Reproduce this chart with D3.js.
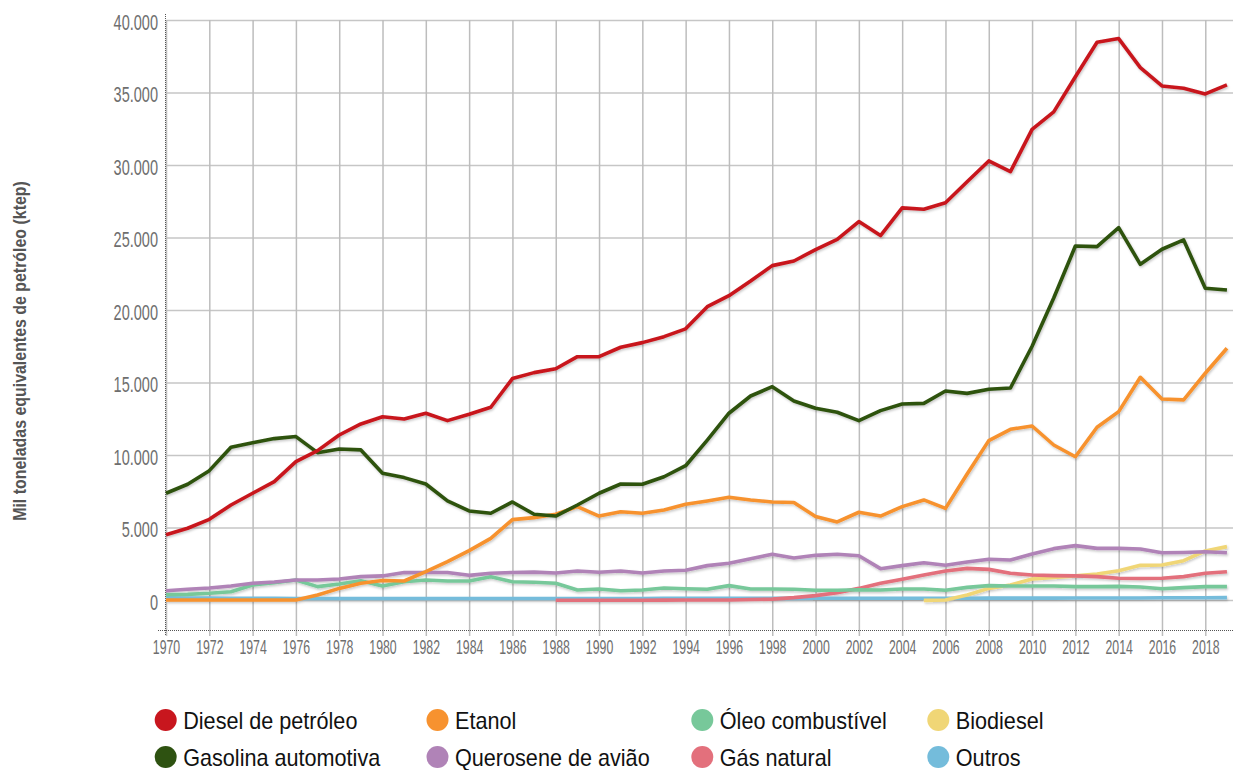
<!DOCTYPE html>
<html><head><meta charset="utf-8">
<script src="https://cdn.jsdelivr.net/npm/d3@7"></script>
<style>
html,body{margin:0;padding:0;background:#fff;}
svg{display:block;}
text{font-family:"Liberation Sans",Arial,sans-serif;}
</style></head><body>
<svg id="chart" width="1235" height="770"></svg>
<script>
const years = [1970,1971,1972,1973,1974,1975,1976,1977,1978,1979,1980,1981,1982,1983,1984,1985,1986,1987,1988,1989,
1990,1991,1992,1993,1994,1995,1996,1997,1998,1999,2000,2001,2002,2003,2004,2005,2006,2007,2008,2009,
2010,2011,2012,2013,2014,2015,2016,2017,2018,2019];

const diesel = [4500,4950,5560,6550,7360,8160,9540,10300,11380,12140,12640,12480,12880,12370,12810,13290,15270,15680,15950,16780,
16780,17430,17750,18160,18700,20230,20990,22000,23060,23380,24160,24870,26100,25130,27040,26950,27400,28850,30280,29540,
32460,33660,36090,38460,38720,36720,35450,35290,34900,35520];

const gasolina = [7360,7980,8920,10530,10850,11130,11270,10160,10410,10350,8740,8440,8000,6830,6140,5980,6760,5910,5790,6550,
7360,8000,7980,8500,9260,11030,12880,14070,14710,13720,13220,12950,12370,13060,13520,13560,14410,14250,14530,14620,
17500,20830,24410,24370,25680,23150,24190,24830,21500,21380];

const etanol = [0,0,0,0,0,0,0,345,800,1150,1340,1310,1950,2640,3400,4250,5540,5680,5910,6440,
5790,6090,5980,6210,6600,6830,7080,6900,6760,6720,5750,5380,6050,5790,6440,6900,6320,8690,10990,11770,
12000,10690,9880,11910,12990,15360,13860,13800,15640,17360];

const querosene = [640,740,830,970,1150,1240,1380,1380,1450,1610,1660,1890,1900,1900,1700,1840,1900,1920,1860,2000,
1910,2000,1860,2000,2050,2370,2530,2850,3150,2900,3080,3150,3050,2160,2370,2570,2390,2620,2810,2760,
3170,3540,3750,3560,3560,3520,3260,3280,3330,3260];

const oleo = [370,390,460,570,1030,1190,1380,920,1100,1330,970,1260,1380,1310,1310,1610,1260,1220,1150,690,
760,640,690,830,780,740,990,760,760,740,670,670,710,690,760,760,670,870,990,960,
960,960,920,920,940,900,780,850,920,920];

const gasNatural = [null,null,null,null,null,null,null,null,null,null,null,null,null,null,null,null,null,null,-20,-20,
-20,-20,-20,-10,0,0,0,30,60,160,300,500,800,1150,1430,1720,2000,2180,2110,1840,
1720,1680,1660,1610,1500,1480,1500,1610,1840,1950];

const biodiesel = [null,null,null,null,null,null,null,null,null,null,null,null,null,null,null,null,null,null,null,null,
null,null,null,null,null,null,null,null,null,null,null,null,null,null,null,-30,0,340,800,1030,
1450,1560,1660,1790,2020,2390,2410,2710,3380,3680];

const outros = [150,140,130,120,110,110,100,100,100,100,100,100,100,100,100,100,100,100,100,100,
100,100,100,110,110,110,110,110,110,110,120,120,120,120,120,120,120,120,130,130,
130,130,140,140,140,140,150,150,150,160];

const seriesNames = ["Diesel de petróleo","Gasolina automotiva","Etanol","Querosene de avião","Óleo combustível","Gás natural","Biodiesel","Outros"];
const seriesColors = ["#c8161e","#2e5211","#f7922f","#b083b7","#77c89a","#e3707c","#f0d676","#74bcdb"];
const seriesValues = [diesel, gasolina, etanol, querosene, oleo, gasNatural, biodiesel, outros];

const yTickValues = [0,5000,10000,15000,20000,25000,30000,35000,40000];
const yTickLabels = ["0","5.000","10.000","15.000","20.000","25.000","30.000","35.000","40.000"];
const xTickValues = [1970,1972,1974,1976,1978,1980,1982,1984,1986,1988,1990,1992,1994,1996,1998,2000,2002,2004,2006,2008,2010,2012,2014,2016,2018];
const yTitle = "Mil toneladas equivalentes de petróleo (ktep)";

const svg = d3.select("#chart");
svg.append("rect").attr("width",1235).attr("height",770).attr("fill","#fff");

const L = 166, R = 1233, T = 20, B = 630;
const x = d3.scaleLinear().domain([1970, 2019.28]).range([L, R]);
const y = d3.scaleLinear().domain([-2070, 40000]).range([B, T]);

const defs = svg.append("defs");
const f = defs.append("filter").attr("id","shadow").attr("x","-5%").attr("y","-5%").attr("width","110%").attr("height","120%");
f.append("feDropShadow").attr("dx",1).attr("dy",1.5).attr("stdDeviation",1).attr("flood-color","#000").attr("flood-opacity",0.22);

// Y axis with horizontal gridlines
const ySX = 0.66;
const gy = svg.append("g").attr("transform",`translate(${L},0)`)
  .call(d3.axisLeft(y).tickValues(yTickValues).tickFormat((d,i)=>yTickLabels[i])
        .tickSizeInner(-(R-L)).tickSizeOuter(0).tickPadding(8));
gy.select(".domain").remove();
gy.selectAll(".tick line").attr("stroke","#c6c6c6").attr("stroke-width",1.6);
gy.selectAll(".tick text")
  .attr("fill","#6e6e6e").attr("font-size",22).attr("dy","0.42em")
  .attr("x", -8/ySX).attr("transform",`scale(${ySX},1)`)
  .attr("font-family",'"Liberation Sans",sans-serif');

// X axis with vertical gridlines
const xSX = 0.6;
const gx = svg.append("g").attr("transform",`translate(0,${B})`)
  .call(d3.axisBottom(x).tickValues(xTickValues).tickFormat(d=>String(d))
        .tickSizeInner(6).tickSizeOuter(0).tickPadding(3.5));
gx.select(".domain").remove();
gx.selectAll(".tick line").attr("stroke","#bdbdbd").attr("stroke-width",1.5).attr("y1",6).attr("y2",-(B-T));
gx.selectAll(".tick text")
  .attr("fill","#6e6e6e").attr("font-size",20.5)
  .attr("transform",`scale(${xSX},1)`)
  .attr("font-family",'"Liberation Sans",sans-serif');

// dotted axis lines
svg.append("line").attr("x1",158).attr("x2",R).attr("y1",B+0.5).attr("y2",B+0.5)
  .attr("stroke","#555").attr("stroke-width",1).attr("stroke-dasharray","1,1");
svg.append("line").attr("x1",L-0.5).attr("x2",L-0.5).attr("y1",14).attr("y2",B+6)
  .attr("stroke","#555").attr("stroke-width",1).attr("stroke-dasharray","1,1");

// Lines
const line = d3.line()
  .defined(d => d.v !== null)
  .x(d => x(d.year)).y(d => y(d.v))
  .curve(d3.curveLinear);

const series = seriesNames.map((name,i)=>({
  name, color: seriesColors[i],
  points: years.map((yr,j)=>({year: yr, v: seriesValues[i][j]}))
}));

svg.append("g").attr("filter","url(#shadow)")
  .selectAll("path").data(series.slice().reverse()).join("path")
  .attr("d", d => line(d.points))
  .attr("fill","none").attr("stroke", d => d.color)
  .attr("stroke-width",3.6).attr("stroke-linejoin","round").attr("stroke-linecap","butt");

// Y title
svg.append("text").attr("transform","translate(26,351) rotate(-90) scale(0.885,1)")
  .attr("text-anchor","middle").attr("font-size",18).attr("font-weight","bold")
  .attr("fill","#555").text(yTitle);

// Legend
const colX = [165.7, 437.5, 702.3, 938.3];
const rowY = [720, 757];
const legSX = 0.94;
const leg = svg.append("g").selectAll("g").data(series).join("g")
  .attr("transform",(d,i)=>`translate(${colX[Math.floor(i/2)]},${rowY[i%2]})`);
leg.append("circle").attr("r",11).attr("fill",d=>d.color);
leg.append("text").attr("transform",`translate(17.5,8.5) scale(${legSX},1)`)
  .attr("font-size",23).attr("fill","#111").text(d=>d.name);
</script>
</body></html>
